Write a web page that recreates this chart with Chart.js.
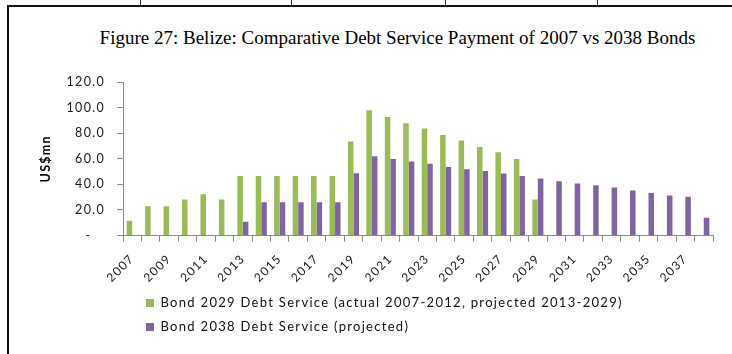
<!DOCTYPE html>
<html>
<head>
<meta charset="utf-8">
<script src="https://cdn.jsdelivr.net/npm/chart.js@4.4.1/dist/chart.umd.min.js"></script>
<style>
  html, body { margin: 0; padding: 0; background: #fff; }
  #wrap { position: relative; width: 732px; height: 354px; overflow: hidden; }
  #frame { position: absolute; left: 7px; top: 5px; right: -2px; bottom: -2px; border-top: 2px solid #111; border-left: 2px solid #111; }
  .cell { position: absolute; top: 0; width: 1px; height: 6px; background: #333; }
  #title { position: absolute; left: 82px; width: 631px; top: 27px; text-align: center; white-space: nowrap;
           font: 19px "Liberation Serif", "Times New Roman", serif; color: #000; }
  #debtCanvas { position: absolute; left: 0; top: 0; }
</style>
</head>
<body>
<div id="wrap">
  <div id="frame"></div>
  <div class="cell" style="left:140px"></div>
  <div class="cell" style="left:291px"></div>
  <div class="cell" style="left:445px"></div>
  <div class="cell" style="left:597px"></div>
  <div id="title">Figure 27: Belize: Comparative Debt Service Payment of 2007 vs 2038 Bonds</div>
  <canvas id="debtCanvas" width="732" height="354"></canvas>
</div>
<script>
//Years on the x axis
const years = ['2007', '2008', '2009', '2010', '2011', '2012', '2013', '2014', '2015', '2016', '2017',
    '2018', '2019', '2020', '2021', '2022', '2023', '2024', '2025', '2026', '2027', '2028', '2029',
    '2030', '2031', '2032', '2033', '2034', '2035', '2036', '2037', '2038'];

//Debt service, US$mn
const bond2029 = [11.5, 22.9, 22.9, 28.1, 32.3, 28.1, 46.6, 46.6, 46.6, 46.6, 46.6, 46.6, 73.4,
    97.9, 92.7, 87.7, 83.6, 78.6, 74.2, 69.2, 65.1, 59.9, 28.1,
    null, null, null, null, null, null, null, null, null];
const bond2038 = [null, null, null, null, null, null, 10.7, 26.0, 26.0, 26.0, 26.0, 26.0, 48.7,
    61.9, 59.9, 57.8, 56.0, 53.6, 51.8, 50.5, 48.4, 46.6, 44.5,
    42.4, 40.6, 39.3, 37.5, 35.1, 33.3, 31.2, 30.2, 13.8];

//Axis ticks
const yTicks = [0, 20, 40, 60, 80, 100, 120];
const seriesNames = ['Bond 2029 Debt Service (actual 2007-2012, projected 2013-2029)',
    'Bond 2038 Debt Service (projected)'];

const axisGrey = '#8c8c8c';
Chart.defaults.font.family = 'Lato';

// wider text spacing, set before measuring and before painting
const textSpacing = {
    id: 'textSpacing',
    beforeUpdate(chart) { chart.ctx.letterSpacing = '1.3px'; },
    beforeDraw(chart) { chart.ctx.letterSpacing = '1.3px'; }
};

// legend sits under the plot, indented from the left edge
const legendIndent = {
    id: 'legendIndent',
    afterLayout(chart) { chart.legend.left = 135; }
};

let debtChart = new Chart(document.getElementById('debtCanvas').getContext('2d'), {
    type: 'bar',
    data: {
        labels: years,
        datasets: [{
            label: seriesNames[0],
            data: bond2029,
            backgroundColor: '#9BBB59',
            borderWidth: 0,
            categoryPercentage: 0.6,
            barPercentage: 1.0
        }, {
            label: seriesNames[1],
            data: bond2038,
            backgroundColor: '#8064A2',
            borderWidth: 0,
            categoryPercentage: 0.6,
            barPercentage: 1.0
        }]
    },
    options: {
        responsive: false,
        animation: false,
        layout: {padding: {top: 82, right: 19, bottom: 10.5, left: 0}},
        plugins: {
            title: {display: false},
            tooltip: {enabled: false},
            legend: {
                position: 'bottom',
                align: 'start',
                labels: {
                    boxWidth: 8,
                    boxHeight: 8,
                    padding: 11,
                    color: '#111',
                    font: {size: 13}
                }
            }
        },
        scales: {
            x: {
                grid: {offset: true, drawOnChartArea: false, tickLength: 6, color: axisGrey},
                border: {color: axisGrey},
                ticks: {
                    autoSkip: false,
                    minRotation: 45,
                    maxRotation: 45,
                    padding: 10,
                    color: '#1a1a1a',
                    font: {size: 12},
                    callback: function (v, i) {
                        return i % 2 === 0 ? this.getLabelForValue(v) : '';
                    }
                },
                afterFit: (s) => { s.height = 50; }
            },
            y: {
                min: yTicks[0],
                max: yTicks[yTicks.length - 1],
                afterBuildTicks: (s) => { s.ticks = yTicks.map(v => ({value: v})); },
                grid: {drawOnChartArea: false, tickLength: 6, color: axisGrey},
                border: {color: axisGrey},
                ticks: {
                    padding: 12,
                    color: '#1a1a1a',
                    font: {size: 12.5},
                    callback: (v) => v === 0 ? '-   ' : v.toFixed(1)
                },
                title: {
                    display: true,
                    text: 'US$mn',
                    color: '#000',
                    font: {size: 12.5, weight: 'bold'},
                    padding: {top: 38, bottom: 0}
                },
                afterFit: (s) => { s.width = 123; }
            }
        }
    },
    plugins: [textSpacing, legendIndent]
});
</script>
</body>
</html>
